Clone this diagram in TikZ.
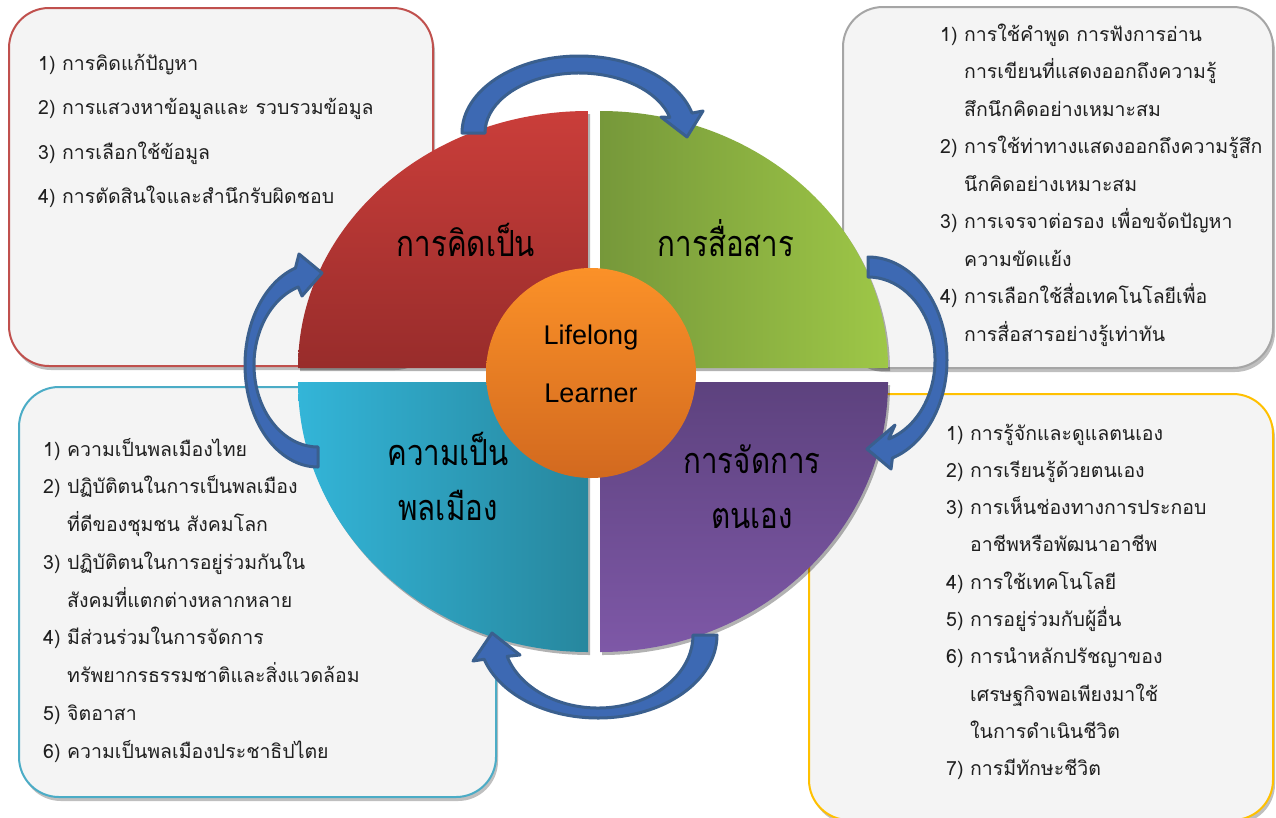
\documentclass[tikz,border=0pt]{standalone}
\usepackage{fontspec}
\setmainfont{Liberation Sans}
\newfontfamily\thaifont[Script=Thai]{Loma}
\newfontfamily\thaibig[Script=Thai,FakeStretch=0.82]{Loma}
\usetikzlibrary{shadows,calc}
\definecolor{boxfill}{HTML}{F4F4F4}
\definecolor{redb}{HTML}{C0504D}
\definecolor{grayb}{HTML}{A5A5A5}
\definecolor{blueb}{HTML}{4BACC6}
\definecolor{goldb}{HTML}{FFC000}
\definecolor{arrfill}{HTML}{3D69B3}
\definecolor{arrline}{HTML}{3A5F8E}
\definecolor{redtop}{HTML}{CA3E3A}
\definecolor{redbot}{HTML}{982C2B}
\definecolor{grnleft}{HTML}{76983A}
\definecolor{grnright}{HTML}{9EC747}
\definecolor{purtop}{HTML}{5D427E}
\definecolor{purbot}{HTML}{7E58A7}
\definecolor{bluleft}{HTML}{33B5D8}
\definecolor{bluright}{HTML}{27879E}
\definecolor{orgtop}{HTML}{FB9128}
\definecolor{orgbot}{HTML}{D2691F}
\newcommand\itemno[1]{\makebox[24pt][l]{#1}}
\begin{document}
\begin{tikzpicture}[x=1pt,y=-1pt,
  infobox/.style={line width=2pt, fill=boxfill, rounded corners=40pt,
    drop shadow={shadow xshift=2pt, shadow yshift=-4pt, opacity=0.25, fill=black}},
  boxtext/.style={anchor=base west, inner sep=0pt, font=\thaifont\fontsize{19.5}{24}\selectfont, text=black!88},
  quadrant/.style={drop shadow={shadow xshift=2pt, shadow yshift=-3pt, opacity=0.3, fill=black}},
  biglabel/.style={font=\thaibig\fontsize{36}{55}\selectfont, align=center, inner sep=0pt, text=black},
  blockarrow/.style={fill=arrfill, draw=arrline, line width=3pt, line join=round},
]
\useasboundingbox (0,0) rectangle (1276,817);
\fill[white] (0,0) rectangle (1276,817);

% ---------- boxes ----------
\path[infobox, draw=redb]   (9,8)    rectangle (433,366);
\path[infobox, draw=grayb]  (843,7)  rectangle (1273,368);
\path[infobox, draw=blueb]  (19,387) rectangle (496,797);
\path[infobox, draw=goldb]  (809,394) rectangle (1273,820);

% ---------- box texts ----------
\foreach \txt [count=\i from 0] in {
  \itemno{1)}การคิดแก้ปัญหา,
  \itemno{2)}การแสวงหาข้อมูลและ รวบรวมข้อมูล,
  \itemno{3)}การเลือกใช้ข้อมูล,
  \itemno{4)}การตัดสินใจและสำนึกรับผิดชอบ}
  \node[boxtext] (tl\i) at (38, 70+\i*44.5) {\txt};

\foreach \txt [count=\i from 0] in {
  \itemno{1)}การใช้คำพูด การฟังการอ่าน,
  \itemno{}การเขียนที่แสดงออกถึงความรู้,
  \itemno{}สึกนึกคิดอย่างเหมาะสม,
  \itemno{2)}การใช้ท่าทางแสดงออกถึงความรู้สึก,
  \itemno{}นึกคิดอย่างเหมาะสม,
  \itemno{3)}การเจรจาต่อรอง เพื่อขจัดปัญหา,
  \itemno{}ความขัดแย้ง,
  \itemno{4)}การเลือกใช้สื่อเทคโนโลยีเพื่อ,
  \itemno{}การสื่อสารอย่างรู้เท่าทัน}
  \node[boxtext] (tr\i) at (940, 41+\i*37.5) {\txt};

\foreach \txt [count=\i from 0] in {
  \itemno{1)}ความเป็นพลเมืองไทย,
  \itemno{2)}ปฏิบัติตนในการเป็นพลเมือง,
  \itemno{}ที่ดีของชุมชน สังคมโลก,
  \itemno{3)}ปฏิบัติตนในการอยู่ร่วมกันใน,
  \itemno{}สังคมที่แตกต่างหลากหลาย,
  \itemno{4)}มีส่วนร่วมในการจัดการ,
  \itemno{}ทรัพยากรธรรมชาติและสิ่งแวดล้อม,
  \itemno{5)}จิตอาสา,
  \itemno{6)}ความเป็นพลเมืองประชาธิปไตย}
  \node[boxtext] (bl\i) at (43, 456+\i*37.75) {\txt};

\foreach \txt [count=\i from 0] in {
  \itemno{1)}การรู้จักและดูแลตนเอง,
  \itemno{2)}การเรียนรู้ด้วยตนเอง,
  \itemno{3)}การเห็นช่องทางการประกอบ,
  \itemno{}อาชีพหรือพัฒนาอาชีพ,
  \itemno{4)}การใช้เทคโนโลยี,
  \itemno{5)}การอยู่ร่วมกับผู้อื่น,
  \itemno{6)}การนำหลักปรัชญาของ,
  \itemno{}เศรษฐกิจพอเพียงมาใช้,
  \itemno{}ในการดำเนินชีวิต,
  \itemno{7)}การมีทักษะชีวิต}
  \node[boxtext] (br\i) at (946, 440+\i*37.3) {\txt};

% ---------- quadrants ----------
\path[quadrant, top color=redtop, bottom color=redbot]
  (588,368) -- (298,368) arc[start angle=180, end angle=270, x radius=290, y radius=257] -- cycle;
\path[quadrant, left color=grnleft, right color=grnright]
  (600,368) -- (600,111) arc[start angle=270, end angle=360, x radius=288, y radius=257] -- cycle;
\path[quadrant, top color=purtop, bottom color=purbot]
  (600,382) -- (888,382) arc[start angle=0, end angle=90, x radius=288, y radius=270] -- cycle;
\path[quadrant, left color=bluleft, right color=bluright]
  (588,382) -- (588,652) arc[start angle=90, end angle=180, x radius=290, y radius=270] -- cycle;

\node[biglabel] (think) at (466,240) {การคิดเป็น};
\node[biglabel] (comm) at (726,238) {การสื่อสาร};
\node[biglabel] (citizen) at (448,476) {ความเป็น\\พลเมือง};
\node[biglabel] (self) at (752,487) {การจัดการ\\ตนเอง};

% ---------- curved arrows ----------
\coordinate (cTop) at (579,133);
\coordinate (cRight) at (868,360);
\coordinate (cBot) at (598,635);
\coordinate (cLeft) at (318,365);

\path[blockarrow] ($(cTop)+(180:117 and 77)$)
  arc[start angle=180, end angle=345, x radius=117, y radius=77]
  -- (703,111) -- (687,137) -- (661,117)
  -- ($(cTop)+(345:94 and 60)$)
  arc[start angle=345, end angle=180, x radius=94, y radius=60] -- cycle;

\path[blockarrow] ($(cRight)+(270:79 and 103)$)
  arc[start angle=270, end angle=432, x radius=79, y radius=103]
  -- (891,469) -- (867,449) -- (895,425)
  -- ($(cRight)+(432:67 and 83)$)
  arc[start angle=432, end angle=270, x radius=67, y radius=83] -- cycle;

\path[blockarrow] ($(cBot)+(0:119 and 83)$)
  arc[start angle=0, end angle=163, x radius=119, y radius=83]
  -- (473,661) -- (492,633) -- (520,655)
  -- ($(cBot)+(163:95 and 73)$)
  arc[start angle=163, end angle=0, x radius=95, y radius=73] -- cycle;

\path[blockarrow] ($(cLeft)+(90:73 and 102)$)
  arc[start angle=90, end angle=252, x radius=73, y radius=102]
  -- (299,254) -- (322,273) -- (302,296)
  -- ($(cLeft)+(252:64 and 82)$)
  arc[start angle=252, end angle=90, x radius=64, y radius=82] -- cycle;

% ---------- hub ----------
\node[circle, minimum size=210pt, inner sep=0pt, top color=orgtop, bottom color=orgbot] (hub) at (591,373) {};
\node[font=\fontsize{27}{58}\selectfont, align=center, inner sep=0pt] (hubtext) at (591,364) {Lifelong\\Learner};
\end{tikzpicture}
\end{document}
